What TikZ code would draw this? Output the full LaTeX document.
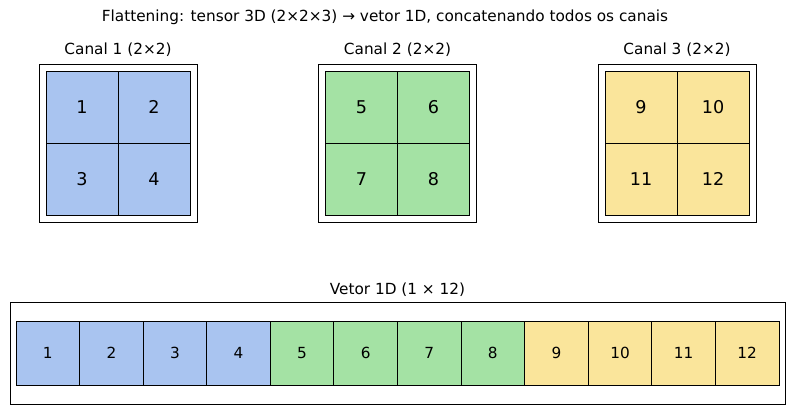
\documentclass[tikz,border=0pt]{standalone}
\usepackage{fontspec}
\setmainfont{DejaVu Sans}
\definecolor{chblue}{RGB}{169,196,240}
\definecolor{chgreen}{RGB}{164,226,164}
\definecolor{chyellow}{RGB}{250,229,155}
\tikzset{
	gridcell/.style = {draw, line width=0.9pt, minimum width=72pt, minimum height=72pt, inner sep=0pt, font=\fontsize{17.6}{20}\selectfont},
	veccell/.style = {draw, line width=0.9pt, minimum width=63.6pt, minimum height=64pt, inner sep=0pt, font=\fontsize{15.3}{18}\selectfont},
	frame/.style = {draw, line width=0.8pt, inner sep=0pt},
	label/.style = {font=\fontsize{15.3}{18}\selectfont, inner sep=0pt}
}
\begin{document}
\begin{tikzpicture}[x=1pt, y=-1pt]
	\useasboundingbox (0,0) rectangle (794,414);
	\node[label] (title) at (385,17) {Flattening: tensor 3D (2×2×3) → vetor 1D, concatenando todos os canais};
	% channels 2x2
	\foreach \k/\xo/\col in {1/46/chblue, 2/325.5/chgreen, 3/605/chyellow}{
		\node[frame, minimum width=158pt, minimum height=158pt] (f\k) at (\xo+72,143) {};
		\foreach \r in {0,1}
			\foreach \c in {0,1}{
				\pgfmathtruncatemacro\v{4*(\k-1)+2*\r+\c+1}
				\node[gridcell, fill=\col] (g\v) at (\xo+36+72*\c, 107+72*\r) {\v};
			}
		\node[label] (t\k) at (\xo+72,50) {Canal \k\ (2×2)};
	}
	% vector 1x12
	\node[frame, minimum width=775pt, minimum height=102pt] (fv) at (397.5,353) {};
	\node[label] (tv) at (397.5,290) {Vetor 1D (1 × 12)};
	\foreach \i in {1,...,12}{
		\ifnum\i<5 \def\col{chblue}\else\ifnum\i<9 \def\col{chgreen}\else\def\col{chyellow}\fi\fi
		\node[veccell, fill=\col] (v\i) at (16+63.58*\i-31.79, 353) {\i};
	}
\end{tikzpicture}
\end{document}
